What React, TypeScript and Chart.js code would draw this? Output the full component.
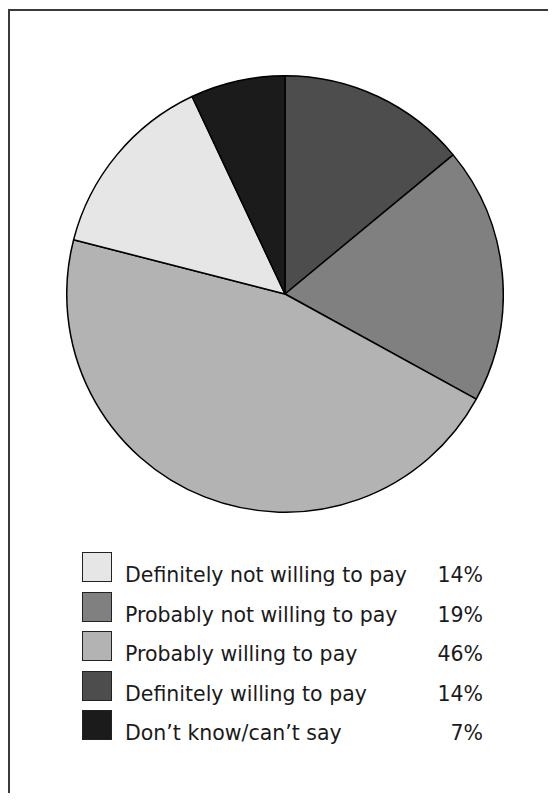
import React, { useEffect, useRef } from "react";
import { Chart, registerables } from "chart.js";

Chart.register(...registerables);

// Survey responses, listed in legend order
const categories = [
  "Definitely not willing to pay",
  "Probably not willing to pay",
  "Probably willing to pay",
  "Definitely willing to pay",
  "Don\u2019t know/can\u2019t say",
];
const shares = [14, 19, 46, 14, 7];
const fills = ["#e6e6e6", "#808080", "#b3b3b3", "#4d4d4d", "#1b1b1b"];
// Order in which the slices run clockwise from twelve o'clock
const sliceOrder = [3, 1, 2, 0, 4];

const FONT = "'DejaVu Sans', sans-serif";

export default function App() {
  const canvasRef = useRef<HTMLCanvasElement | null>(null);

  useEffect(() => {
    const canvas = canvasRef.current;
    if (!canvas) return;
    const chart = new Chart(canvas, {
      type: "pie",
      data: {
        labels: sliceOrder.map((i) => categories[i]),
        datasets: [
          {
            data: sliceOrder.map((i) => shares[i]),
            backgroundColor: sliceOrder.map((i) => fills[i]),
            borderColor: "#000000",
            borderWidth: 1.5,
          },
        ],
      },
      options: {
        responsive: false,
        animation: false,
        layout: { padding: 0 },
        plugins: {
          legend: { display: false },
          tooltip: { enabled: false },
        },
      },
    });
    return () => chart.destroy();
  }, []);

  return (
    <div
      style={{
        position: "relative",
        width: 540,
        height: 785,
        overflow: "hidden",
        background: "#ffffff",
      }}
    >
      <div
        style={{
          position: "absolute",
          left: 0,
          top: 1,
          width: 560,
          height: 800,
          borderTop: "2px solid #3a3a3a",
          borderLeft: "2px solid #3a3a3a",
          boxSizing: "border-box",
        }}
      />
      <canvas
        ref={canvasRef}
        width={438}
        height={438}
        style={{ position: "absolute", left: 58, top: 67, width: 438, height: 438 }}
      />
      {categories.map((name, i) => (
        <div
          key={name}
          style={{
            position: "absolute",
            left: 74,
            top: 544 + i * 39.5,
            width: 420,
            height: 31,
            fontFamily: FONT,
            fontSize: 20.5,
            color: "#1a1a1a",
          }}
        >
          <div
            style={{
              position: "absolute",
              left: 0,
              top: 0,
              width: 30,
              height: 30,
              boxSizing: "border-box",
              border: "1.5px solid #222222",
              background: fills[i],
            }}
          />
          <div
            style={{
              position: "absolute",
              left: 43,
              top: 0,
              height: 31,
              lineHeight: "46px",
              whiteSpace: "nowrap",
            }}
          >
            {name}
          </div>
          <div
            style={{
              position: "absolute",
              right: 19,
              top: 0,
              height: 31,
              lineHeight: "46px",
              textAlign: "right",
            }}
          >
            {shares[i]}%
          </div>
        </div>
      ))}
    </div>
  );
}
